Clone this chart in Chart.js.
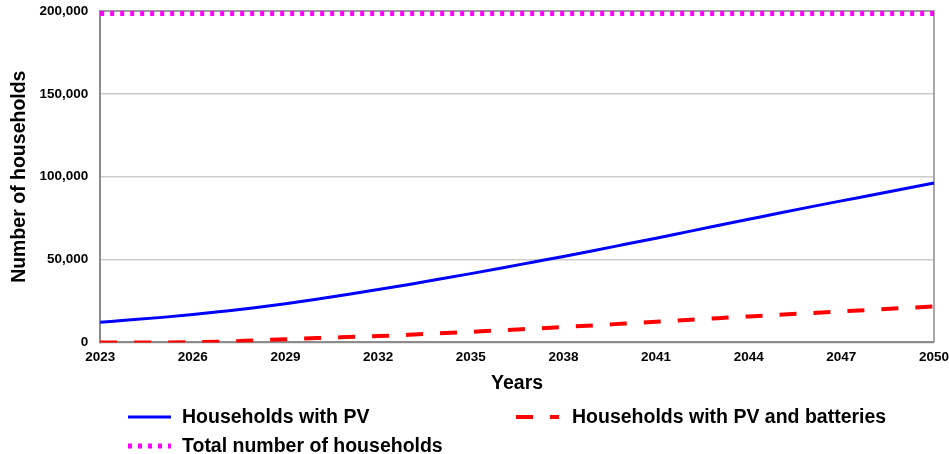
<!DOCTYPE html>
<html>
<head>
<meta charset="utf-8">
<script src="https://cdn.jsdelivr.net/npm/chart.js@4"></script>
<style>
  html, body { margin: 0; padding: 0; background: #fff; }
  #wrap { width: 949px; height: 454px; position: relative; }
</style>
</head>
<body>
<div id="wrap"><canvas id="chart"></canvas></div>
<script>
// ── Data ───────────────────────────────────────────────────
const years = [2023, 2024, 2025, 2026, 2027, 2028, 2029, 2030, 2031, 2032,
               2033, 2034, 2035, 2036, 2037, 2038, 2039, 2040, 2041, 2042,
               2043, 2044, 2045, 2046, 2047, 2048, 2049, 2050];

const withPV = [12200, 13600, 15100, 16800, 18800, 20900, 23300, 26000, 28900, 31900,
                35000, 38200, 41500, 44900, 48400, 51900, 55500, 59200, 62900, 66700,
                70500, 74300, 78100, 81800, 85400, 89000, 92600, 96200];

const withPVBatteries = [0, 0, 0, 100, 500, 1200, 1900, 2600, 3200, 3800,
                         4600, 5500, 6400, 7300, 8300, 9300, 10300, 11400, 12500, 13500,
                         14600, 15700, 16700, 17700, 18700, 19700, 20700, 21700];

const totalHouseholds = [198500, 198500, 198500, 198500, 198500, 198500, 198500, 198500, 198500, 198500,
                         198500, 198500, 198500, 198500, 198500, 198500, 198500, 198500, 198500, 198500,
                         198500, 198500, 198500, 198500, 198500, 198500, 198500, 198500];

const yTicks = [0, 50000, 100000, 150000, 200000];

// ── Styles ─────────────────────────────────────────────────
const FONT = 'Liberation Sans, Arial, sans-serif';
const FRAME = '#8c8c8c';

// Top + right edge of the plot frame
const framePlugin = {
  id: 'frame',
  beforeDatasetsDraw(chart) {
    const { ctx, chartArea: a } = chart;
    ctx.save();
    ctx.strokeStyle = FRAME;
    ctx.lineWidth = 1.5;
    ctx.beginPath();
    ctx.moveTo(a.left, a.top);
    ctx.lineTo(a.right, a.top);
    ctx.lineTo(a.right, a.bottom);
    ctx.stroke();
    ctx.restore();
  }
};

// Two-column legend under the axis title
const legendSlots = [
  { x: 128, y: 417, textX: 182 },
  { x: 516, y: 417, textX: 572 },
  { x: 128, y: 446, textX: 182 },
];

const legendPlugin = {
  id: 'twoColLegend',
  afterDraw(chart) {
    const ctx = chart.ctx;
    ctx.save();
    chart.data.datasets.forEach((ds, i) => {
      const s = legendSlots[i];
      ctx.strokeStyle = ds.borderColor;
      ctx.lineWidth = ds.borderWidth;
      ctx.setLineDash(ds.borderDash || []);
      ctx.beginPath();
      ctx.moveTo(s.x, s.y);
      ctx.lineTo(s.x + 43, s.y);
      ctx.stroke();
      ctx.setLineDash([]);
      ctx.fillStyle = '#000';
      ctx.font = 'bold 19.5px ' + FONT;
      ctx.textBaseline = 'middle';
      ctx.fillText(ds.label, s.textX, s.y + 1);
    });
    ctx.restore();
  }
};

new Chart(document.getElementById('chart'), {
  type: 'line',
  data: {
    labels: years,
    datasets: [
      { label: 'Households with PV', data: withPV, borderColor: '#0000ff', borderWidth: 3,
        pointRadius: 0, cubicInterpolationMode: 'monotone' },
      { label: 'Households with PV and batteries', data: withPVBatteries, borderColor: '#ff0000', borderWidth: 4,
        borderDash: [17, 17], pointRadius: 0, cubicInterpolationMode: 'monotone' },
      { label: 'Total number of households', data: totalHouseholds, borderColor: '#ff00ff', borderWidth: 5,
        borderDash: [4, 6], pointRadius: 0 },
    ]
  },
  options: {
    responsive: true, maintainAspectRatio: false, animation: false,
    layout: { padding: { top: 11, right: 0, bottom: 59, left: 8 } },
    plugins: { legend: { display: false }, tooltip: { enabled: false } },
    scales: {
      x: {
        // invisible tick marks give the label gap without widening the side padding
        grid: { display: true, drawOnChartArea: false, drawTicks: true, tickLength: 7, tickColor: 'transparent' },
        border: { color: FRAME, width: 2 },
        ticks: {
          autoSkip: false, maxRotation: 0, padding: 0, color: '#000',
          font: { family: FONT, size: 13.5, weight: 'bold' },
          callback: (v, i) => ((years[i] - years[0]) % 3 === 0 ? String(years[i]) : '')
        },
        title: { display: true, text: 'Years', color: '#000', padding: { top: 6, bottom: 0 },
                 font: { family: FONT, size: 19.5, weight: 'bold' } }
      },
      y: {
        min: yTicks[0], max: yTicks[yTicks.length - 1],
        afterBuildTicks: (scale) => { scale.ticks = yTicks.map(v => ({ value: v })); },
        grid: { color: '#cccccc', lineWidth: 1.5, drawTicks: true, tickLength: 12, tickColor: 'transparent' },
        border: { color: FRAME, width: 2 },
        ticks: {
          padding: 0, color: '#000',
          font: { family: FONT, size: 13.5, weight: 'bold' },
          callback: (v) => v.toLocaleString('en-US')
        },
        title: { display: true, text: 'Number of households', color: '#000', padding: { top: 0, bottom: 8 },
                 font: { family: FONT, size: 19.5, weight: 'bold' } }
      }
    }
  },
  plugins: [framePlugin, legendPlugin]
});
</script>
</body>
</html>
